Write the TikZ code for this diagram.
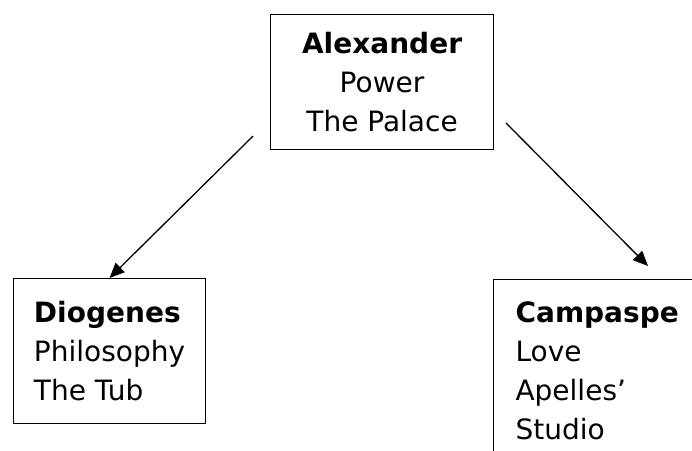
\documentclass[tikz,border=0pt]{standalone}
\usepackage{fontspec}
\setmainfont{DejaVu Sans}
\usetikzlibrary{arrows.meta}
\begin{document}
\begin{tikzpicture}[x=1pt,y=-1pt,
    box/.style={draw,line width=1.1pt,inner sep=0pt,font=\fontsize{28}{39}\selectfont},
    link/.style={line width=1.3pt,-{Triangle[length=15pt,width=13pt]}}]
    % trois personnages, chacun avec son theme et son lieu
    \useasboundingbox (0,0) rectangle (692,450);
    \clip (0,0) rectangle (692,450);
    \node[box,anchor=north west,minimum width=223pt,minimum height=135pt,align=center]
        (alex) at (270,14) {\textbf{Alexander}\\Power\\The Palace};
    \node[box,anchor=north west,minimum width=192pt,minimum height=145pt,align=left]
        (dio) at (13,278) {\textbf{Diogenes}\\Philosophy\\The Tub};
    \node[box,anchor=north west,text width=200pt,align=left,
        inner xsep=22pt,inner ysep=22pt]
        (camp) at (493,279) {\textbf{Campaspe}\\Love\\Apelles’\\Studio};
    \coordinate (alexleft) at ([xshift=-17pt,yshift=14pt]alex.south west);
    \coordinate (alexright) at ([xshift=12pt,yshift=27pt]alex.south east);
    \coordinate (camptop) at ([xshift=155pt,yshift=13pt]camp.north west);
    \draw[link] (alexleft) -- (dio.north);
    \draw[link] (alexright) -- (camptop);
\end{tikzpicture}
\end{document}
